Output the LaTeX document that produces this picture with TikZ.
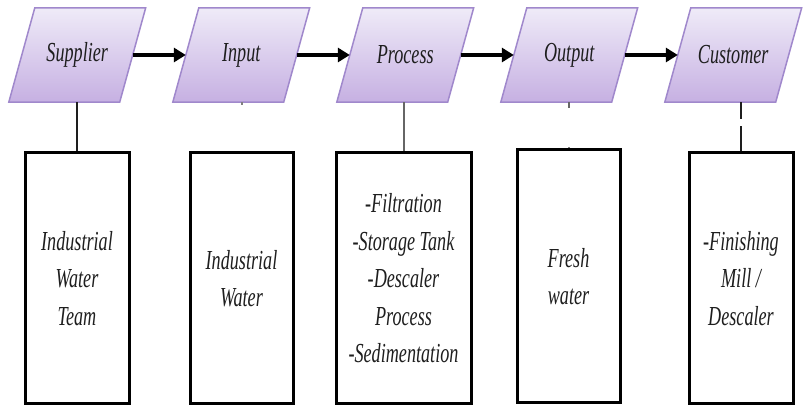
\documentclass[tikz,border=0pt]{standalone}
\usepackage{fontspec}
\newfontfamily\diafont{Liberation Serif}[FakeStretch=0.66]
\usetikzlibrary{arrows.meta,backgrounds}
\definecolor{paratop}{HTML}{EFEBF8}
\definecolor{parabot}{HTML}{C6B0E2}
\definecolor{paraedge}{HTML}{A088CC}
\definecolor{ink}{HTML}{1E1E1E}
\tikzset{
  para/.style={rectangle, minimum width=110.5pt, minimum height=94pt, inner sep=0pt,
    font=\diafont\itshape\fontsize{27.5}{37}\selectfont, text=ink},
  infobox/.style={draw=black, line width=3pt, rectangle, inner sep=0pt, align=center,
    font=\diafont\itshape\fontsize{27.5}{37.5}\selectfont, text=ink},
  flow/.style={line width=4pt, -{Triangle[length=12pt,width=14pt]}},
  link/.style={line width=2pt, draw=ink},
  paraShape/.style={top color=paratop, bottom color=parabot, draw=paraedge, line width=1.5pt}
}
\begin{document}
\begin{tikzpicture}[x=1pt,y=-1pt]
\useasboundingbox (0,0) rectangle (807,406);
% header parallelograms (text nodes)
\node[para] (sup) at (77.25,55) {Supplier};
\node[para] (inp) at (241.25,55) {Input};
\node[para] (pro) at (405.25,55) {Process};
\node[para] (out) at (569.25,55) {Output};
\node[para] (cus) at (733.25,55) {Customer};
\begin{scope}[on background layer]
\fill[white] (0,0) rectangle (807,406);
\foreach \n in {sup,inp,pro,out,cus}{
  \shade[paraShape] ([xshift=-13pt]\n.south west) -- ([xshift=-13pt]\n.south east)
     -- ([xshift=13pt]\n.north east) -- ([xshift=13pt]\n.north west) -- cycle;
}
\end{scope}
% lower boxes
\node[infobox, minimum width=104pt, minimum height=251pt] (supB) at (77,278.5) {Industrial\\Water\\Team};
\node[infobox, minimum width=103pt, minimum height=251pt] (inpB) at (241.5,278.5) {Industrial\\Water};
\node[infobox, minimum width=135pt, minimum height=251pt] (proB) at (403.5,278.5) {-Filtration\\-Storage Tank\\-Descaler\\Process\\-Sedimentation};
\node[infobox, minimum width=103pt, minimum height=253pt] (outB) at (568.5,276.5) {Fresh\\water};
\node[infobox, minimum width=104pt, minimum height=251pt] (cusB) at (741,278.5) {-Finishing\\Mill /\\Descaler};
% flow arrows
\draw[flow] (sup.east) -- (inp.west);
\draw[flow] (inp.east) -- (pro.west);
\draw[flow] (pro.east) -- (out.west);
\draw[flow] (out.east) -- (cus.west);
% vertical links
\draw[link] (sup.south -| supB.north) -- (supB.north);
\draw[link, shorten >=46pt, draw=gray] (inp.south -| inpB.north) -- (inpB.north);
\draw[link, draw=gray!80!black] (pro.south -| 404,0) -- (proB.north -| 404,0);
\draw[link, shorten >=40pt, draw=gray!80!black] (out.south) -- (out.south |- outB.north);
\draw[link, shorten <=45pt, draw=gray] (out.south) -- (out.south |- outB.north);
\draw[link, dash pattern=on 17pt off 7pt on 40pt] (cus.south -| cusB.north) -- (cusB.north);
\end{tikzpicture}
\end{document}
